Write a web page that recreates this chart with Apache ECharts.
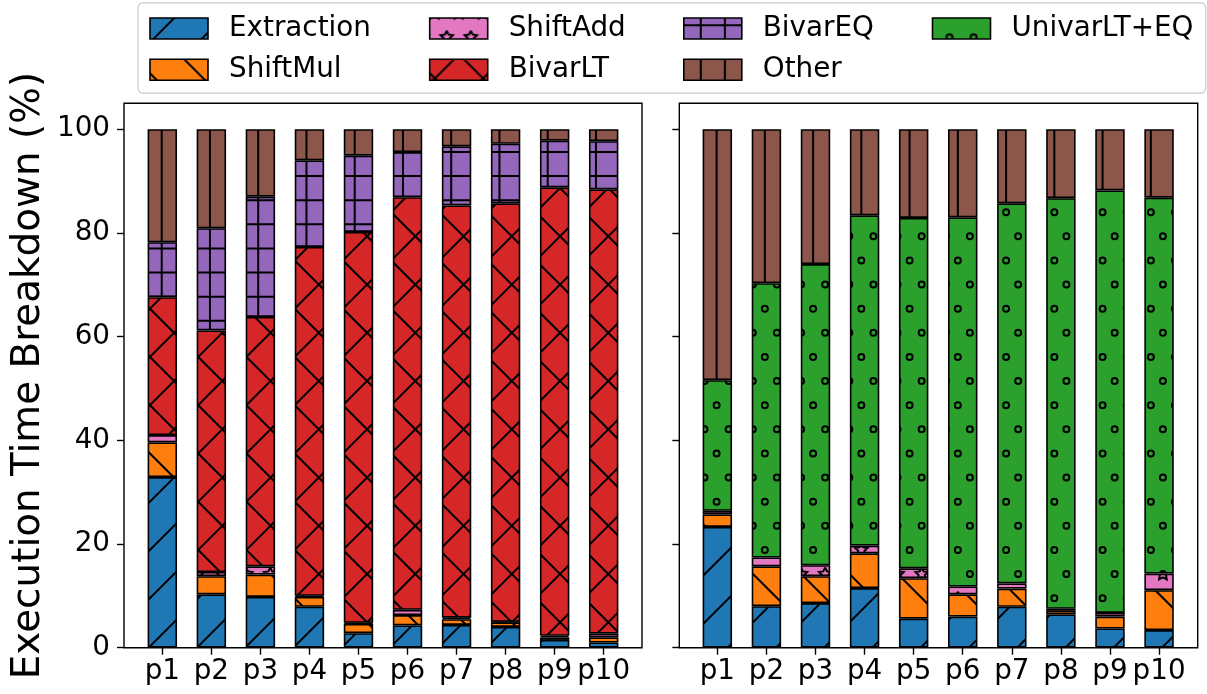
<!DOCTYPE html>
<html>
<head>
<meta charset="utf-8">
<script src="https://cdn.jsdelivr.net/npm/echarts@6/dist/echarts.min.js"></script>
<style>
  html, body { margin: 0; padding: 0; background: #fff; }
  #chart { width: 1207px; height: 694px; }
</style>
</head>
<body>
<div id="chart"></div>
<script>
// Programs on the x axis
const categories = ['p1', 'p2', 'p3', 'p4', 'p5', 'p6', 'p7', 'p8', 'p9', 'p10'];
const yTicks = [0, 20, 40, 60, 80, 100];

// Left panel: share of execution time (%) per component
const leftExtraction = [32.9, 10.3, 9.8, 7.9, 2.8, 4.3, 4.4, 4.0, 1.5, 1.0];
const leftShiftMul   = [6.7, 3.5, 4.3, 1.9, 1.8, 2.0, 1.1, 0.9, 0.5, 1.0];
const leftShiftAdd   = [1.4, 0.8, 1.6, 0.2, 0.2, 1.0, 0.3, 0.1, 0.3, 0.7];
const leftBivarLT    = [26.6, 46.6, 48.1, 67.3, 75.4, 79.6, 79.5, 80.7, 86.5, 85.7];
const leftBivarEQ    = [10.6, 19.7, 23.2, 16.7, 14.7, 8.7, 11.4, 11.5, 9.0, 9.3];
const leftOther      = [21.8, 19.1, 13.0, 6.0, 5.1, 4.4, 3.3, 2.8, 2.2, 2.3];

// Right panel: share of execution time (%) per component
const rightExtraction = [23.3, 8.0, 8.6, 11.5, 5.6, 6.0, 7.9, 6.4, 3.7, 3.4];
const rightShiftMul   = [2.4, 7.7, 5.2, 6.7, 7.8, 4.3, 3.5, 0.7, 2.3, 7.7];
const rightShiftAdd   = [0.7, 1.7, 2.1, 1.5, 1.9, 1.5, 1.0, 0.4, 0.7, 3.2];
const rightUnivarLTEQ = [25.2, 52.9, 58.1, 63.7, 67.6, 71.2, 73.3, 79.2, 81.5, 72.5];
const rightOther      = [48.4, 29.7, 26.0, 16.6, 17.1, 17.0, 14.3, 13.3, 11.8, 13.2];

const FONT = 'DejaVu Sans';

// ---- hatch tiles (canvas patterns anchored at the canvas origin) ----
const P = 24.125;          // hatch spacing
const T = 193;             // tile size = 8 * P
const OX = 4.9, OY = 19.2; // hatch lattice origin
const HATCH_W = 2;

function tile(fill, draw) {
  const c = document.createElement('canvas');
  c.width = T; c.height = T;
  const g = c.getContext('2d');
  g.fillStyle = fill;
  g.fillRect(0, 0, T, T);
  g.strokeStyle = '#000';
  g.lineWidth = HATCH_W;
  g.beginPath();
  draw(g);
  g.stroke();
  return { image: c, repeat: 'repeat' };
}
function vLines(g) {
  const b = ((OX + 0.5 * P) % P);
  for (let k = -1; k <= 9; k++) { const x = b + k * P; g.moveTo(x, -2); g.lineTo(x, T + 2); }
}
function hLines(g) {
  const b = (((OY - 0.5 * P) % P) + P) % P;
  for (let k = -1; k <= 9; k++) { const y = b + k * P; g.moveTo(-2, y); g.lineTo(T + 2, y); }
}
function neLines(g) { // x + y = c
  for (let k = -12; k <= 20; k++) { const c = 24.3 + 2 * P * k; g.moveTo(-T, c + T); g.lineTo(2 * T, c - 2 * T); }
}
function seLines(g) { // y - x = c
  for (let k = -12; k <= 20; k++) { const c = 14 + 2 * P * k; g.moveTo(-T, c - T); g.lineTo(2 * T, c + 2 * T); }
}
function lattice(fn) {
  for (let m = -2; m <= 6; m++) {
    for (let i = -1; i <= 9; i++) {
      fn(OX + i * P, OY + (2 * m + 1) * P);
      fn(OX + (i + 0.5) * P, OY + 2 * m * P);
    }
  }
}
function circles(g) {
  lattice((x, y) => { g.moveTo(x + 3, y); g.arc(x, y, 3, 0, Math.PI * 2); });
}
function stars(g) {
  const R = 6.5, r = R * 0.5;
  lattice((x, y) => {
    for (let i = 0; i <= 10; i++) {
      const a = Math.PI / 2 + i * Math.PI / 5;
      const rad = i % 2 === 0 ? R : r;
      const px = x + rad * Math.cos(a), py = y - rad * Math.sin(a);
      if (i === 0) g.moveTo(px, py); else g.lineTo(px, py);
    }
  });
}

const fills = {
  'Extraction':  tile('#1f77b4', neLines),
  'ShiftMul':    tile('#ff7f0e', seLines),
  'ShiftAdd':    tile('#e377c2', stars),
  'BivarLT':     tile('#d62728', g => { neLines(g); seLines(g); }),
  'BivarEQ':     tile('#9467bd', g => { vLines(g); hLines(g); }),
  'UnivarLT+EQ': tile('#2ca02c', circles),
  'Other':       tile('#8c564b', vLines)
};

function barSeries(name, values, axisIndex, stack) {
  return {
    name: name,
    type: 'bar',
    stack: stack,
    xAxisIndex: axisIndex,
    yAxisIndex: axisIndex,
    barWidth: '60%',
    data: values,
    itemStyle: { color: fills[name], borderColor: '#000', borderWidth: 1.6 },
    emphasis: { disabled: true }
  };
}

const GRID_TOP = 103.3, GRID_H = 544.4;
const frameTick = { length: 7, lineStyle: { color: '#000', width: 1.4 } };

function frameYAxis(gridIndex, withLabels) {
  const ax = {
    gridIndex: gridIndex, type: 'value', min: 0, max: 105, interval: 20,
    axisLine: { show: false },
    splitLine: { show: false },
    axisTick: Object.assign({ show: true, customValues: yTicks }, frameTick),
    axisLabel: withLabels
      ? { show: true, customValues: yTicks, fontSize: 27.8, color: '#000', fontFamily: FONT, margin: 14 }
      : { show: false }
  };
  if (withLabels) {
    ax.name = 'Execution Time Breakdown (%)';
    ax.nameLocation = 'middle';
    ax.nameRotate = 90;
    ax.nameGap = 76;
    ax.nameTextStyle = { fontSize: 38.9, color: '#000', fontFamily: FONT };
  }
  return ax;
}
function dataXAxis(gridIndex) {
  return {
    gridIndex: gridIndex, type: 'category', data: categories,
    axisLine: { show: false },
    axisTick: { show: true, alignWithLabel: true, interval: 0, length: 7, lineStyle: { color: '#000', width: 1.4 } },
    axisLabel: { interval: 0, hideOverlap: false, fontSize: 27.8, color: '#000', fontFamily: FONT, margin: 10 },
    splitLine: { show: false }
  };
}

function legendColumn(names, left) {
  return {
    data: names, left: left, top: 14.5, orient: 'vertical',
    itemWidth: 58, itemHeight: 21, itemGap: 13.3, padding: 0,
    icon: 'rect', selectedMode: false, z: 5,
    itemStyle: { borderColor: '#000', borderWidth: 1.6 },
    textStyle: { fontSize: 27.8, color: '#000', fontFamily: FONT, lineHeight: 28, padding: [0, 0, 0, 16] }
  };
}

const option = {
  animation: false,
  backgroundColor: '#fff',
  grid: [
    { left: 124, top: GRID_TOP, width: 518, height: GRID_H, show: true, borderColor: '#000', borderWidth: 1.4, backgroundColor: 'transparent' },
    { left: 137.8, top: GRID_TOP, width: 490.4, height: GRID_H },
    { left: 679.3, top: GRID_TOP, width: 518.4, height: GRID_H, show: true, borderColor: '#000', borderWidth: 1.4, backgroundColor: 'transparent' },
    { left: 692.8, top: GRID_TOP, width: 490.8, height: GRID_H }
  ],
  xAxis: [
    { gridIndex: 0, type: 'value', show: false, min: 0, max: 1 },
    dataXAxis(1),
    { gridIndex: 2, type: 'value', show: false, min: 0, max: 1 },
    dataXAxis(3)
  ],
  yAxis: [
    frameYAxis(0, true),
    { gridIndex: 1, type: 'value', min: 0, max: 105, show: false },
    frameYAxis(2, false),
    { gridIndex: 3, type: 'value', min: 0, max: 105, show: false }
  ],
  legend: [
    legendColumn(['Extraction', 'ShiftMul'], 149.2),
    legendColumn(['ShiftAdd', 'BivarLT'], 428.9),
    legendColumn(['BivarEQ', 'Other'], 683),
    legendColumn(['UnivarLT+EQ'], 931.7)
  ],
  graphic: [{
    type: 'rect', z: 1, silent: true,
    shape: { x: 138.1, y: 2.7, width: 1067.6, height: 90.6, r: 5 },
    style: { fill: '#fff', stroke: '#d3d3d3', lineWidth: 1.4 }
  }],
  series: [
    barSeries('Extraction', leftExtraction, 1, 'left'),
    barSeries('ShiftMul', leftShiftMul, 1, 'left'),
    barSeries('ShiftAdd', leftShiftAdd, 1, 'left'),
    barSeries('BivarLT', leftBivarLT, 1, 'left'),
    barSeries('BivarEQ', leftBivarEQ, 1, 'left'),
    barSeries('Other', leftOther, 1, 'left'),
    barSeries('Extraction', rightExtraction, 3, 'right'),
    barSeries('ShiftMul', rightShiftMul, 3, 'right'),
    barSeries('ShiftAdd', rightShiftAdd, 3, 'right'),
    barSeries('UnivarLT+EQ', rightUnivarLTEQ, 3, 'right'),
    barSeries('Other', rightOther, 3, 'right')
  ]
};

const chart = echarts.init(document.getElementById('chart'), null, { renderer: 'canvas' });
chart.setOption(option);
</script>
</body>
</html>
